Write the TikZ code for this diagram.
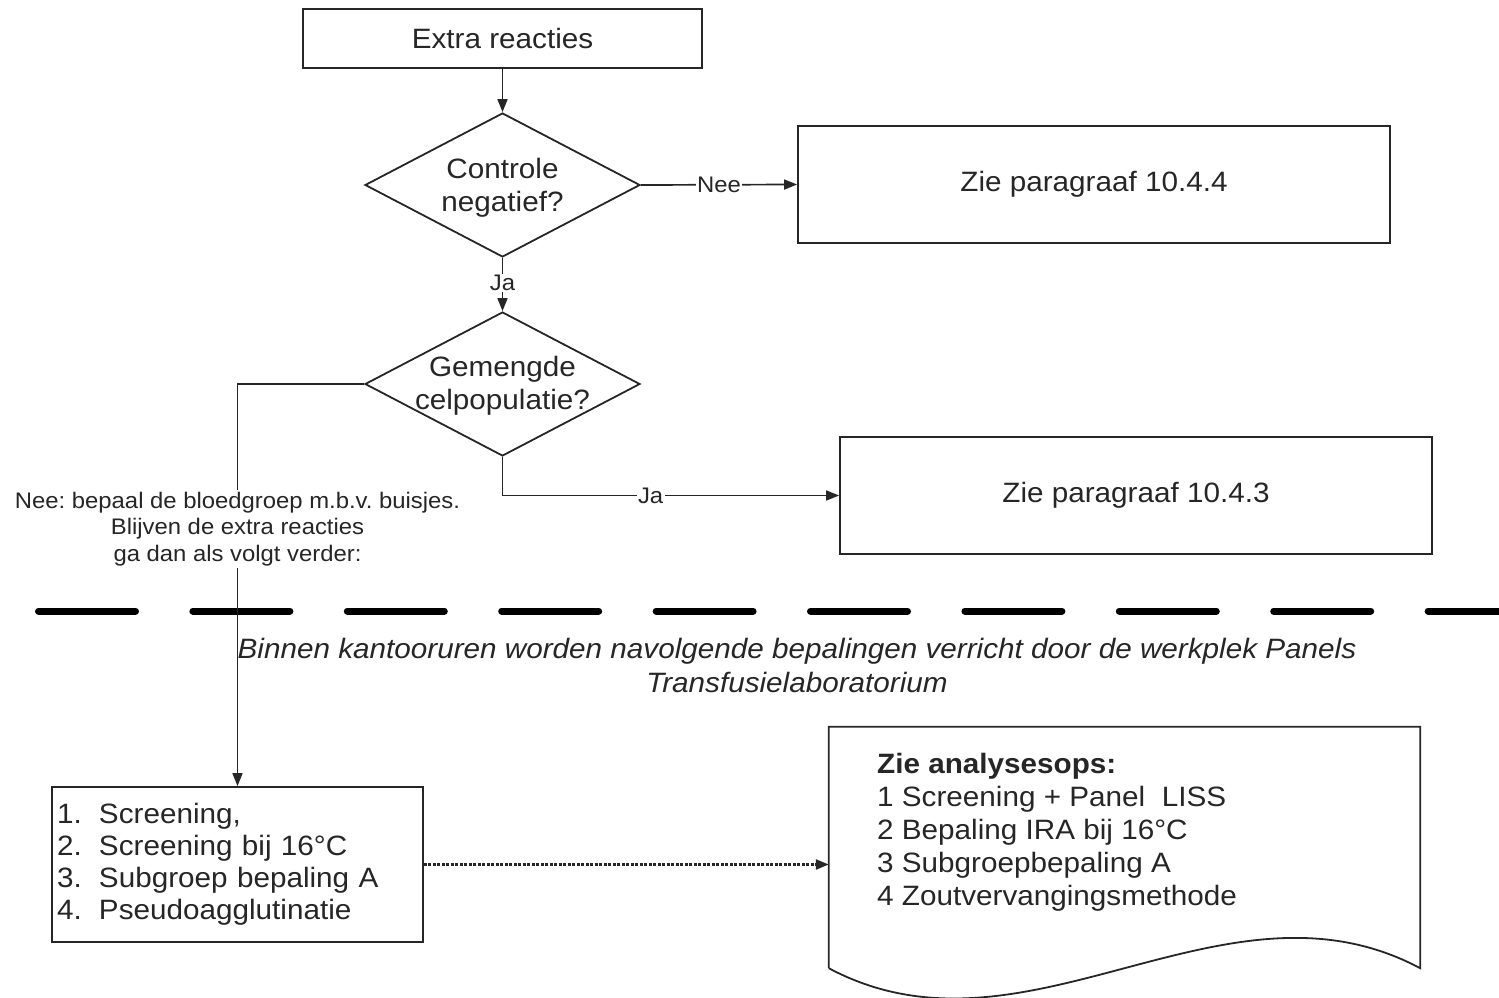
\documentclass[tikz,border=0pt]{standalone}
\usepackage{fontspec}
\setmainfont{Liberation Sans}[FakeStretch=1.06]
\usetikzlibrary{arrows.meta,shapes.geometric}
\frenchspacing
\newcommand{\fmain}{\fontsize{28}{33}\selectfont}
\newcommand{\flist}{\fontsize{28}{32}\selectfont}
\newcommand{\flab}{\fontsize{22.5}{26.5}\selectfont}
\newcommand{\fital}{\fontsize{28}{34}\selectfont\itshape}
\tikzset{
  boxline/.style={draw=black!85, line width=1.8pt},
  procbox/.style={boxline, rectangle, inner sep=0pt, font=\fmain, text=black!85},
  decision/.style={boxline, diamond, inner sep=0pt, minimum width=275pt, minimum height=144pt},
  conn/.style={draw=black!85, line width=1.7pt, -{Triangle[length=13pt,width=10pt]}},
  dotconn/.style={draw=black!85, line width=2.4pt, dash pattern=on 3pt off 1.5pt, -{Triangle[length=13pt,width=10pt]}},
  edgelab/.style={fill=white, inner sep=1.5pt, font=\flab, text=black!85},
  sep/.style={draw=black, line width=7pt, line cap=round, dash pattern=on 97pt off 57.4pt}
}
\begin{document}
\begin{tikzpicture}[x=1pt,y=-1pt]
\useasboundingbox (0,0) rectangle (1499,998);

% nodes
\node[procbox, minimum width=399pt, minimum height=59pt] (extra) at (502.5,38.5) {Extra reacties};
\node[decision, label={[font=\fmain, align=center, text=black!85, yshift=-3pt]center:Controle\\negatief?}] (d1) at (502.5,185) {};
\node[procbox, minimum width=592pt, minimum height=117pt] (p444) at (1094,184.5) {Zie paragraaf 10.4.4};
\node[decision, label={[font=\fmain, align=center, text=black!85, yshift=-2pt]center:Gemengde\\celpopulatie?}] (d2) at (502.5,384) {};
\node[procbox, minimum width=592pt, minimum height=117pt] (p443) at (1136,495.5) {Zie paragraaf 10.4.3};

\node[procbox, font=\flist, minimum width=371pt, minimum height=155pt, text width=361pt, align=left] (list) at (237.5,864.5)
 {\makebox[42pt][l]{1.}Screening,\\
  \makebox[42pt][l]{2.}Screening bij 16°C\\
  \makebox[42pt][l]{3.}Subgroep bepaling A\\
  \makebox[42pt][l]{4.}Pseudoagglutinatie};

% document shape
\node[inner sep=0pt, minimum width=591pt, minimum height=241pt] (doc) at (1124.5,847.5) {};
\draw[boxline] (doc.south west) -- (doc.north west) -- (doc.north east) -- (doc.south east)
  .. controls +(-197,-105) and +(197,105) .. (doc.south west);
\node[anchor=north west, inner sep=0pt, align=left, font=\fmain, text=black!85] (doctext) at (877,753)
 {\textbf{Zie analysesops:}\\
  1 Screening + Panel\ \ LISS\\
  2 Bepaling IRA bij 16°C\\
  3 Subgroepbepaling A\\
  4 Zoutvervangingsmethode};

% separator
\draw[sep] (38.5,611) -- (1499,611);

% connectors
\draw[conn] (extra.south) -- (d1.north);
\draw[conn] (d1.east) -- node[edgelab] {Nee} (p444.west);
\draw[conn] (d1.south) -- node[edgelab, pos=0.47] {Ja} (d2.north);
\draw[conn] (d2.south) |- node[edgelab, pos=0.72] {Ja} (p443.west);

\node[fill=white, inner sep=2pt, align=center, font=\flab, text=black!85] (nolab) at (237.5,529)
 {Nee: bepaal de bloedgroep m.b.v. buisjes.\\Blijven de extra reacties\\ga dan als volgt verder:};
\draw[draw=black!85, line width=1.7pt] (d2.west) -| (nolab.north);
\draw[conn] (nolab.south) -- (list.north);

\draw[dotconn] (list.east) -- (list.east -| doc.west);

% italic note
\node[font=\fital, align=center, text=black!85] (note) at (797,665)
 {Binnen kantooruren worden navolgende bepalingen verricht door de werkplek Panels\\Transfusielaboratorium};
\end{tikzpicture}
\end{document}
